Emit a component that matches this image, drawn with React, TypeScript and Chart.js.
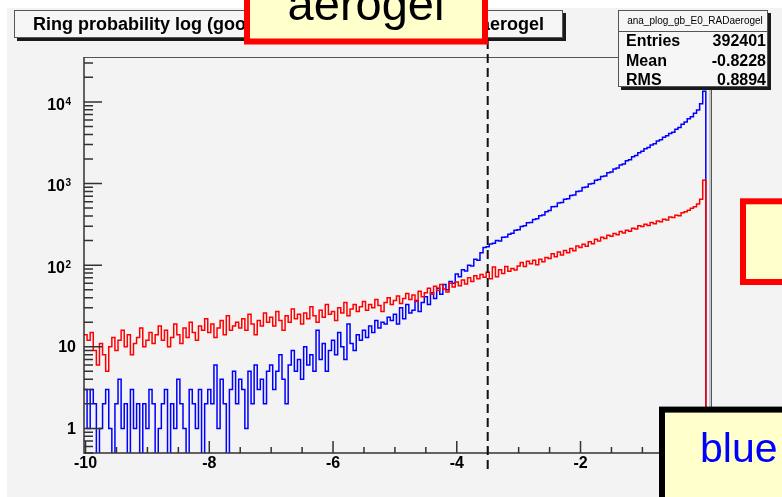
import { useEffect, useRef } from "react";
import { Chart, registerables } from "chart.js";

Chart.register(...registerables);

// Histogram binning: 0.05 wide bins centred on multiples of 0.05
const X_MIN = -10.025;
const X_MAX = 0.125;
const BIN_WIDTH = 0.05;
const Y_MIN = 0.5;
const Y_MAX = 35500;
// empty bins are sent below the log-axis floor so they drop to the frame edge
const EMPTY_BIN_LEVEL = 0.1;

const CUT_VALUE = -3.5;

const X_MAJOR_TICKS = [-10, -8, -6, -4, -2, 0];
const X_TICK_LABELS = ["-10", "-8", "-6", "-4", "-2", "0"];
const Y_MAJOR_TICKS = [1, 10, 100, 1000, 10000];
const Y_LABEL_BASE = ["1", "10", "10", "10", "10"];
const Y_LABEL_EXP = ["", "", "2", "3", "4"];

const TITLE_START = "Ring probability log (good";
const TITLE_END = "RADaerogel";

const STATS_NAME = "ana_plog_gb_E0_RADaerogel";
const STATS_LABELS = ["Entries", "Mean", "RMS"];
const STATS_VALUES = ["392401", "-0.8228", "0.8894"];

// bin contents, bin centres from -10.00 to 0.00
const BLUE_COUNTS = [
  3, 1, 3, 2, 0, 1, 2, 3, 1, 0,
  2, 4, 1, 2, 0, 3, 1, 2, 0, 2,
  1, 3, 2, 0, 1, 2, 3, 0, 2, 1,
  4, 2, 1, 0, 3, 2, 1, 3, 0, 2,
  3, 2, 6, 1, 4, 2, 0, 3, 5, 2,
  4, 3, 1, 5, 2, 6, 3, 4, 2, 5,
  6, 3, 5, 8, 4, 2, 6, 9, 5, 7,
  4, 10, 6, 8, 5, 16, 7, 11, 5, 9,
  12, 8, 15, 10, 7, 19, 11, 9, 14, 12,
  16, 13, 18, 15, 21, 17, 20, 19, 23, 21,
  25, 19, 30, 22, 33, 26, 28, 37, 27, 35,
  41, 33, 46, 39, 52, 44, 58, 50, 63, 60,
  78, 72, 88, 85, 100, 98, 118, 115, 142, 165,
  168, 182, 186, 200, 198, 220, 222, 240, 246, 268,
  272, 298, 304, 330, 334, 362, 370, 404, 412, 452,
  468, 518, 524, 576, 584, 642, 650, 716, 726, 798,
  812, 892, 905, 990, 1004, 1098, 1118, 1220, 1240, 1355,
  1380, 1505, 1550, 1690, 1740, 1900, 1955, 2130, 2200, 2390,
  2480, 2660, 2760, 2970, 3080, 3310, 3440, 3690, 3840, 4110,
  4260, 4620, 4860, 5340, 5660, 6200, 6560, 7250, 7950, 9500, 13500,
];

const RED_COUNTS = [
  14, 12, 15, 9, 6, 11, 8, 5, 10, 13,
  9, 12, 16, 10, 14, 8, 11, 13, 17, 10,
  12, 15, 11, 14, 18, 12, 16, 10, 13, 19,
  14, 11, 17, 13, 20, 15, 12, 18, 16, 22,
  15, 19, 13, 17, 21, 14, 24, 16, 18, 20,
  17, 22, 16, 25, 19, 14, 21, 18, 26, 20,
  23, 18, 27, 21, 16, 24, 20, 29, 22, 25,
  19, 26, 22, 31, 24, 20, 28, 23, 33, 25,
  27, 21, 30, 26, 35, 24, 29, 33, 27, 31,
  36, 28, 33, 30, 38, 32, 27, 35, 40, 33,
  37, 42, 34, 39, 45, 38, 43, 36, 48, 41,
  46, 52, 44, 55, 49, 58, 51, 47, 60, 54,
  62, 56, 66, 59, 70, 63, 74, 68, 77, 71,
  82, 68, 95, 72, 88, 79, 96, 84, 91, 87,
  98, 108, 96, 112, 104, 115, 101, 118, 110, 124,
  121, 138, 127, 145, 133, 151, 142, 160, 150, 172,
  165, 180, 171, 194, 183, 208, 198, 220, 212, 232,
  226, 245, 236, 258, 247, 268, 260, 284, 278, 305,
  298, 318, 306, 334, 322, 348, 340, 366, 358, 390,
  384, 410, 402, 438, 452, 470, 498, 520, 560, 640, 1100,
];

const FONT = '"Liberation Sans", Arial, Helvetica, sans-serif';
const CANVAS_BG = "#f3f3f3";
const AXIS_COLOR = "#333333";

// step outline: one point per bin left edge, then fall back to the empty level
function histPoints(counts: number[]) {
  const pts = counts.map((c, i) => ({
    x: X_MIN + i * BIN_WIDTH,
    y: c > 0 ? c : EMPTY_BIN_LEVEL,
  }));
  pts.push({ x: X_MIN + counts.length * BIN_WIDTH, y: EMPTY_BIN_LEVEL });
  pts.push({ x: X_MAX, y: EMPTY_BIN_LEVEL });
  return pts;
}

const backgroundPlugin = {
  id: "rootCanvasBackground",
  beforeDraw(chart: any) {
    const { ctx, width, height } = chart;
    ctx.save();
    ctx.fillStyle = "#ffffff";
    ctx.fillRect(0, 0, width, height);
    ctx.fillStyle = CANVAS_BG;
    ctx.fillRect(7, 8, width - 7, height - 8);
    ctx.restore();
  },
};

const axesPlugin = {
  id: "rootAxes",
  afterDatasetsDraw(chart: any) {
    const { ctx, chartArea } = chart;
    const { left, right, top, bottom } = chartArea;
    const xs = chart.scales.x;
    const ys = chart.scales.y;
    ctx.save();

    // frame
    ctx.strokeStyle = "#555555";
    ctx.lineWidth = 1;
    ctx.beginPath();
    ctx.moveTo(left, top + 0.5);
    ctx.lineTo(right, top + 0.5);
    ctx.moveTo(right - 0.5, top);
    ctx.lineTo(right - 0.5, bottom);
    ctx.stroke();
    ctx.strokeStyle = "#999999";
    ctx.beginPath();
    ctx.moveTo(right - 2, top);
    ctx.lineTo(right - 2, bottom);
    ctx.stroke();

    ctx.strokeStyle = AXIS_COLOR;
    ctx.lineWidth = 1.5;
    ctx.beginPath();
    ctx.moveTo(left, top);
    ctx.lineTo(left, bottom);
    ctx.lineTo(right, bottom);
    ctx.stroke();

    // x ticks, pointing into the frame
    ctx.lineWidth = 1.5;
    ctx.beginPath();
    for (let v = -10; v <= 0.001; v += 0.5) {
      const px = xs.getPixelForValue(v);
      const major = Math.abs(v / 2 - Math.round(v / 2)) < 1e-6;
      ctx.moveTo(px, bottom);
      ctx.lineTo(px, bottom - (major ? 12 : 6));
    }
    ctx.stroke();

    // y ticks on the log axis
    ctx.beginPath();
    for (let d = 0.1; d <= 10000; d *= 10) {
      for (let m = 1; m <= 9; m++) {
        const v = d * m;
        if (v < Y_MIN || v > Y_MAX) continue;
        const py = ys.getPixelForValue(v);
        ctx.moveTo(left, py);
        ctx.lineTo(left + (m === 1 ? 18 : 9), py);
      }
    }
    ctx.stroke();

    // tick labels
    ctx.fillStyle = "#000000";
    ctx.textBaseline = "middle";
    ctx.textAlign = "center";
    ctx.font = `bold 16px ${FONT}`;
    X_MAJOR_TICKS.forEach((v, i) => {
      ctx.fillText(X_TICK_LABELS[i], xs.getPixelForValue(v), bottom + 11);
    });

    Y_MAJOR_TICKS.forEach((v, i) => {
      const py = ys.getPixelForValue(v);
      const base = Y_LABEL_BASE[i];
      const exp = Y_LABEL_EXP[i];
      ctx.textAlign = "right";
      if (!exp) {
        ctx.font = `bold 16px ${FONT}`;
        ctx.fillText(base, left - 8, py + 1);
      } else {
        ctx.font = `bold 10px ${FONT}`;
        const ew = ctx.measureText(exp).width;
        ctx.fillText(exp, left - 13, py);
        ctx.font = `bold 16px ${FONT}`;
        ctx.fillText(base, left - 13 - ew - 0.5, py + 3.5);
      }
    });

    // vertical cut line
    const cx = xs.getPixelForValue(CUT_VALUE);
    ctx.strokeStyle = "#111111";
    ctx.lineWidth = 2;
    ctx.setLineDash([9, 5]);
    ctx.beginPath();
    ctx.moveTo(cx, 40);
    ctx.lineTo(cx, bottom + 20);
    ctx.stroke();
    ctx.setLineDash([]);

    ctx.restore();
  },
};

function shadowBox(ctx: CanvasRenderingContext2D, x: number, y: number, w: number, h: number) {
  ctx.fillStyle = "#1a1a1a";
  ctx.fillRect(x + 3, y + 3, w, h);
  ctx.fillStyle = "#f6f6f6";
  ctx.fillRect(x, y, w, h);
  ctx.strokeStyle = "#555555";
  ctx.lineWidth = 1;
  ctx.strokeRect(x + 0.5, y + 0.5, w - 1, h - 1);
}

function callout(ctx: CanvasRenderingContext2D, x: number, y: number, w: number, h: number, border: string) {
  ctx.fillStyle = "#ffffcc";
  ctx.fillRect(x, y, w, h);
  ctx.strokeStyle = border;
  ctx.lineWidth = 6;
  ctx.strokeRect(x, y, w, h);
}

const overlayPlugin = {
  id: "rootOverlays",
  afterDraw(chart: any) {
    const ctx: CanvasRenderingContext2D = chart.ctx;
    ctx.save();

    // title pave (its middle sits under the "aerogel" callout)
    shadowBox(ctx, 14, 10, 549, 28);
    ctx.fillStyle = "#000000";
    ctx.font = `bold 18px ${FONT}`;
    ctx.textBaseline = "alphabetic";
    ctx.textAlign = "left";
    ctx.fillText(TITLE_START, 33, 29.5);
    ctx.textAlign = "right";
    ctx.fillText(TITLE_END, 544, 29.5);

    // statistics box
    shadowBox(ctx, 618, 10, 150, 77);
    ctx.strokeStyle = "#555555";
    ctx.lineWidth = 1;
    ctx.beginPath();
    ctx.moveTo(618, 31.5);
    ctx.lineTo(768, 31.5);
    ctx.stroke();
    ctx.fillStyle = "#000000";
    ctx.font = `10px ${FONT}`;
    ctx.textAlign = "center";
    ctx.fillText(STATS_NAME, 695, 24);
    ctx.font = `bold 16px ${FONT}`;
    STATS_LABELS.forEach((label, i) => {
      const y = 46 + i * 19.5;
      ctx.textAlign = "left";
      ctx.fillText(label, 626, y);
      ctx.textAlign = "right";
      ctx.fillText(STATS_VALUES[i], 766, y);
    });

    // callouts
    callout(ctx, 247, -12, 238, 53.5, "#ff0000");
    ctx.fillStyle = "#000000";
    ctx.font = `47px ${FONT}`;
    ctx.textAlign = "center";
    ctx.fillText("aerogel", 366, 20);

    callout(ctx, 743, 201.3, 60, 80.7, "#ff0000");

    callout(ctx, 662, 409.6, 140, 110, "#000000");
    ctx.fillStyle = "#0000ff";
    ctx.font = `41px ${FONT}`;
    ctx.textAlign = "left";
    ctx.fillText("blue", 700, 462);

    ctx.restore();
  },
};

export default function App() {
  const canvasRef = useRef<HTMLCanvasElement | null>(null);

  useEffect(() => {
    const canvas = canvasRef.current;
    if (!canvas) return;
    const chart = new Chart(canvas, {
      type: "line",
      data: {
        datasets: [
          {
            label: "red",
            data: histPoints(RED_COUNTS),
            borderColor: "#ff0000",
            borderWidth: 1.5,
            stepped: true,
            pointRadius: 0,
            fill: false,
          },
          {
            label: "blue",
            data: histPoints(BLUE_COUNTS),
            borderColor: "#0000ff",
            borderWidth: 1.5,
            stepped: true,
            pointRadius: 0,
            fill: false,
          },
        ],
      },
      options: {
        animation: false,
        responsive: false,
        devicePixelRatio: 1,
        layout: { padding: { left: 84, right: 70, top: 57, bottom: 44 } },
        plugins: {
          legend: { display: false },
          title: { display: false },
          tooltip: { enabled: false },
        },
        events: [],
        scales: {
          x: { type: "linear", min: X_MIN, max: X_MAX, display: false },
          y: { type: "logarithmic", min: Y_MIN, max: Y_MAX, display: false },
        },
      },
      plugins: [backgroundPlugin, axesPlugin, overlayPlugin],
    });
    return () => chart.destroy();
  }, []);

  return (
    <div style={{ position: "fixed", left: 0, top: 0, width: 782, height: 497 }}>
      <canvas ref={canvasRef} width={782} height={497} style={{ display: "block" }} />
    </div>
  );
}
